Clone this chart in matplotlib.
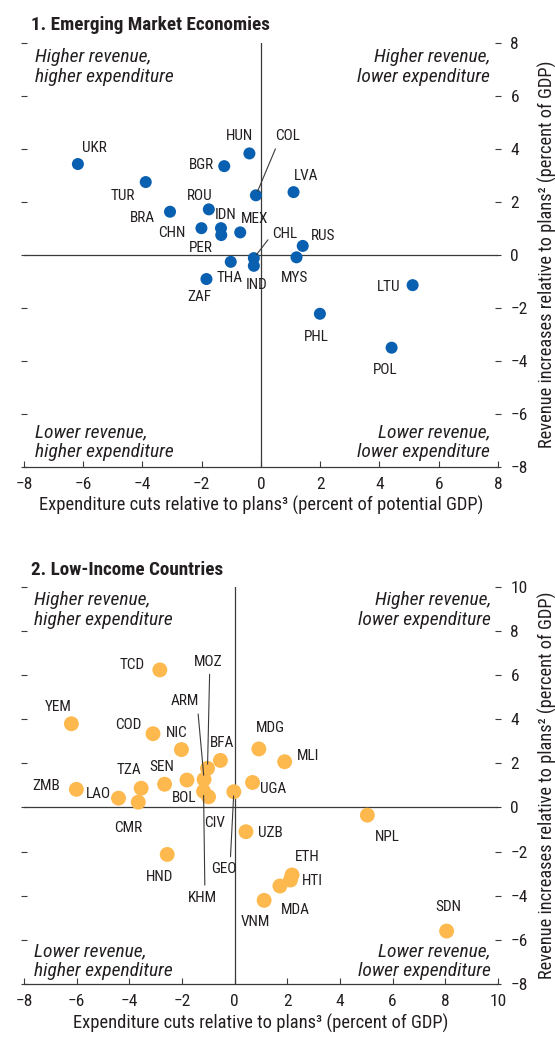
import matplotlib
matplotlib.use("Agg")
import matplotlib.pyplot as plt
from matplotlib import font_manager

# =========================
# DATA
# =========================
# Panel 1: emerging markets (x = expenditure cuts, y = revenue increases)
em_codes = ["UKR", "TUR", "BRA", "ROU", "CHN", "IDN", "PER", "MEX", "HUN", "BGR", "COL",
            "LVA", "RUS", "THA", "CHL", "IND", "MYS", "ZAF", "LTU", "PHL", "POL"]
em_exp = [-6.18, -3.89, -3.07, -1.76, -2.01, -1.35, -1.34, -0.70, -0.39, -1.24, -0.17,
          1.10, 1.41, -1.02, -0.24, -0.24, 1.20, -1.84, 5.12, 1.99, 4.41]
em_rev = [3.42, 2.74, 1.62, 1.71, 1.00, 1.00, 0.74, 0.84, 3.82, 3.34, 2.24,
          2.36, 0.33, -0.27, -0.13, -0.42, -0.10, -0.92, -1.15, -2.23, -3.51]

# Panel 2: low-income countries
lic_codes = ["TCD", "YEM", "COD", "NIC", "MDG", "MLI", "BFA", "ZMB", "LAO", "TZA", "CMR",
             "SEN", "BOL", "MOZ", "ARM", "KHM", "CIV", "GEO", "UGA", "UZB", "NPL", "HND",
             "ETH", "HTI", "MDA", "VNM", "SDN"]
lic_exp = [-2.84, -6.20, -3.10, -2.02, 0.92, 1.90, -0.54, -6.01, -4.41, -3.55, -3.66,
           -2.66, -1.81, -1.03, -1.16, -1.18, -0.99, -0.03, 0.68, 0.43, 5.04, -2.56,
           2.18, 2.12, 1.72, 1.12, 8.05]
lic_rev = [6.23, 3.79, 3.34, 2.62, 2.65, 2.07, 2.13, 0.82, 0.42, 0.87, 0.24,
           1.05, 1.24, 1.77, 1.27, 0.73, 0.48, 0.71, 1.13, -1.10, -0.35, -2.13,
           -3.06, -3.29, -3.56, -4.21, -5.60]

# =========================
# LABEL LAYOUT (label centre in data units, leader line start on label box)
# =========================
em_lab = {"UKR": (-5.64, 4.02), "TUR": (-4.65, 2.20), "BRA": (-3.99, 1.38), "ROU": (-2.06, 2.22),
          "CHN": (-3.01, 0.82), "IDN": (-1.20, 1.51), "PER": (-2.02, 0.25), "MEX": (-0.22, 1.36),
          "HUN": (-0.72, 4.46), "BGR": (-2.00, 3.39), "COL": (0.90, 4.46), "LVA": (1.54, 2.98),
          "RUS": (2.11, 0.69), "THA": (-1.04, -0.88), "CHL": (0.81, 0.78), "IND": (-0.16, -1.16),
          "MYS": (1.13, -0.88), "ZAF": (-2.08, -1.60), "LTU": (4.30, -1.22), "PHL": (1.87, -3.10),
          "POL": (4.18, -4.36)}
em_lead = {"COL": (0.1, 0.0), "CHL": (0.0, 0.5)}

lic_lab = {"TCD": (-3.89, 6.46), "YEM": (-6.68, 4.54), "COD": (-4.03, 3.74), "NIC": (-2.20, 3.39),
           "MDG": (1.37, 3.59), "MLI": (2.80, 2.31), "BFA": (-0.47, 2.91), "ZMB": (-7.16, 0.98),
           "LAO": (-5.16, 0.61), "TZA": (-4.00, 1.70), "CMR": (-4.05, -0.91), "SEN": (-2.77, 1.81),
           "BOL": (-1.92, 0.42), "MOZ": (-1.00, 6.60), "ARM": (-1.89, 4.80), "KHM": (-1.24, -4.09),
           "CIV": (-0.78, -0.72), "GEO": (-0.41, -2.80), "UGA": (1.46, 0.83), "UZB": (1.35, -1.17),
           "NPL": (5.78, -1.36), "HND": (-2.84, -3.14), "ETH": (2.77, -2.23), "HTI": (2.97, -3.33),
           "MDA": (2.30, -4.65), "VNM": (0.78, -5.20), "SDN": (8.13, -4.52)}
lic_lead = {"MOZ": (0.55, 0.0), "ARM": (0.95, 0.0), "KHM": (0.6, 1.0), "GEO": (0.75, 1.0)}

# =========================
# FONT: pick a narrow sans if one is installed
# =========================
fonts = font_manager.fontManager.ttflist
names = {f.name for f in fonts}
FONT = None
STRETCH = "normal"
for fam in ["Liberation Sans Narrow", "Roboto Condensed", "Open Sans Condensed",
            "Noto Sans Condensed", "DejaVu Sans Condensed", "Lato Condensed"]:
    if fam in names:
        FONT = fam
        break
if FONT is None:
    for fam in ["Noto Sans", "Open Sans", "DejaVu Sans", "Roboto", "Inter"]:
        if any(f.name == fam and f.stretch in ("condensed", "semi-condensed") for f in fonts):
            FONT = fam
            STRETCH = "condensed"
            break
if FONT is None:
    FONT = "Roboto" if "Roboto" in names else "Liberation Sans"

plt.rcParams['font.family'] = [FONT, 'DejaVu Sans']
plt.rcParams['font.stretch'] = STRETCH

TEXT = "#231F20"
AXIS = "#3A3A3A"
BLUE = "#0A60B0"
ORANGE = "#FDB94E"

fig = plt.figure(figsize=(5.55, 10.38), dpi=100)


def draw_panel(ax, codes, xs, ys, labels, leads, color, size, xlim, ylim, xticks, yticks, xlabel):
    ax.set_xlim(*xlim)
    ax.set_ylim(*ylim)
    ax.axhline(0, color=AXIS, lw=0.9, zorder=1)
    ax.axvline(0, color=AXIS, lw=0.9, zorder=1)
    for s in ["top", "left", "right"]:
        ax.spines[s].set_visible(False)
    ax.spines["bottom"].set_color(AXIS)
    ax.spines["bottom"].set_linewidth(0.9)

    ax.set_xticks(xticks)
    ax.set_yticks(yticks)
    ax.set_xticklabels([f"{t}".replace("-", "\u2212") for t in xticks])
    ax.set_yticklabels([f"{t}".replace("-", "\u2212") for t in yticks])
    ax.yaxis.tick_right()
    ax.yaxis.set_label_position("right")
    ax.tick_params(axis="x", direction="in", length=4, width=0.8, color=AXIS,
                   labelsize=12.5, labelcolor=TEXT, pad=7.5)
    ax.tick_params(axis="y", left=True, right=True, direction="inout", length=4, width=0.8,
                   color=AXIS, labelsize=12.5, labelcolor=TEXT, pad=7)

    ax.scatter(xs, ys, s=size, color=color, edgecolors="none", zorder=3)

    for c, x, y in zip(codes, xs, ys):
        lx, ly = labels[c]
        if c in leads:
            ax.annotate(c, xy=(x, y), xytext=(lx, ly), ha="center", va="center",
                        fontsize=11, color=TEXT, zorder=4,
                        arrowprops=dict(arrowstyle="-", color=AXIS, lw=0.8,
                                        relpos=leads[c], shrinkA=2, shrinkB=3))
        else:
            ax.text(lx, ly, c, ha="center", va="center", fontsize=11, color=TEXT, zorder=4)

    x0, x1 = xlim
    y0, y1 = ylim
    q = dict(fontsize=14, style="italic", color=TEXT, linespacing=1.12)
    ax.text(x0 + 0.37, y1 - 0.2, "Higher revenue,\nhigher expenditure", ha="left", va="top", **q)
    ax.text(x1 - 0.27, y1 - 0.2, "Higher revenue,\nlower expenditure", ha="right", va="top", **q)
    ax.text(x0 + 0.37, y0 + 0.2, "Lower revenue,\nhigher expenditure", ha="left", va="bottom", **q)
    ax.text(x1 - 0.27, y0 + 0.2, "Lower revenue,\nlower expenditure", ha="right", va="bottom", **q)

    ax.set_xlabel(xlabel, fontsize=13.3, color=TEXT, labelpad=3)
    ax.set_ylabel("Revenue increases relative to plans\u00b2 (percent of GDP)",
                  fontsize=13.2, color=TEXT, labelpad=7)


ax1 = fig.add_axes([0.0432, 0.5504, 0.854, 0.4085])
draw_panel(ax1, em_codes, em_exp, em_rev, em_lab, em_lead, BLUE, 75,
           (-8, 8), (-8, 8), list(range(-8, 9, 2)), list(range(-8, 9, 2)),
           "Expenditure cuts relative to plans\u00b3 (percent of potential GDP)")

ax2 = fig.add_axes([0.0432, 0.052, 0.854, 0.3828])
draw_panel(ax2, lic_codes, lic_exp, lic_rev, lic_lab, lic_lead, ORANGE, 115,
           (-8, 10), (-8, 10), list(range(-8, 11, 2)), list(range(-8, 11, 2)),
           "Expenditure cuts relative to plans\u00b3 (percent of GDP)")

fig.text(31 / 555, 1 - 25 / 1038, "1. Emerging Market Economies", fontsize=13.8,
         fontweight="bold", color=TEXT, ha="left", va="center")
fig.text(31 / 555, 1 - 570 / 1038, "2. Low-Income Countries", fontsize=13.8,
         fontweight="bold", color=TEXT, ha="left", va="center")

fig.savefig("out.png", dpi=100)
